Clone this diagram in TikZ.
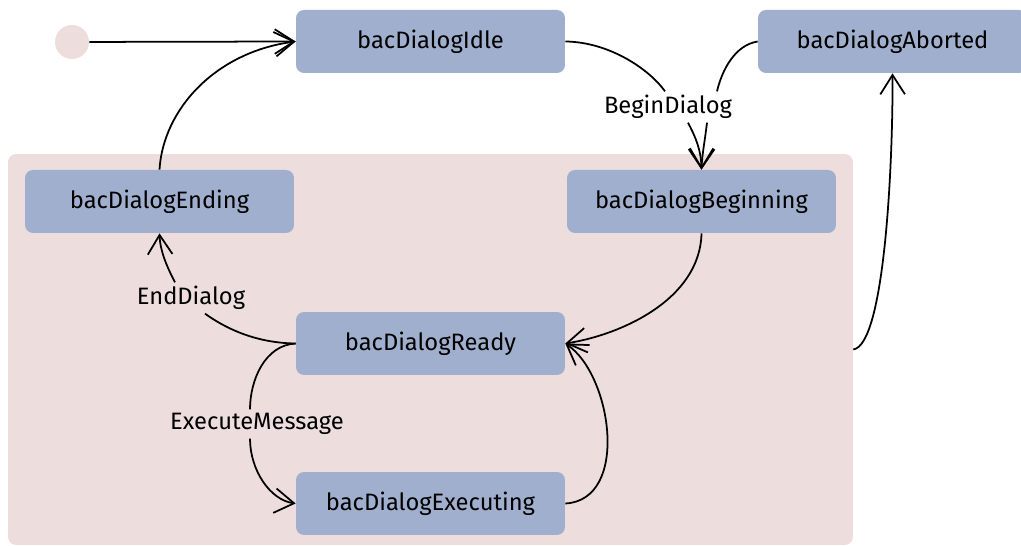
\documentclass[tikz,border=0pt]{standalone}
\usepackage{fontspec}
\setmainfont{Fira Sans}
\usetikzlibrary{arrows.meta,calc}
\definecolor{clusterpink}{RGB}{237,221,221}
\definecolor{statebox}{RGB}{160,175,205}
\begin{document}
\begin{tikzpicture}[x=0.02cm,y=-0.02cm,
  statenode/.style={rectangle,rounded corners=0.16cm,fill=statebox,minimum width=5.38cm,minimum height=1.26cm,inner sep=0pt,font=\fontsize{13.5pt}{15pt}\selectfont},
  lbl/.style={inner sep=2pt,font=\fontsize{13.5pt}{15pt}\selectfont},
  conn/.style={draw=black,line width=1pt},
  tip/.style={-{Straight Barb[length=11pt,width=14pt,line width=1pt]}}]
\path[use as bounding box] (0,0) rectangle (1021,546);
\node[rectangle,rounded corners=0.16cm,fill=clusterpink,minimum width=16.9cm,minimum height=7.82cm,inner sep=0pt] (cluster) at (430.5,349.5) {};
\node[circle,fill=clusterpink,minimum size=0.68cm,inner sep=0pt] (init) at (72,42) {};
\node[statenode] (idle) at (430.5,41.5) {bacDialogIdle};
\node[statenode] (aborted) at (892.5,41.5) {bacDialogAborted};
\node[statenode] (ending) at (159.5,201.5) {bacDialogEnding};
\node[statenode] (beginning) at (701.5,201.5) {bacDialogBeginning};
\node[statenode] (ready) at (430.5,343.5) {bacDialogReady};
\node[statenode] (executing) at (430.5,503.5) {bacDialogExecuting};
\node[lbl] (lblBegin) at (668,107) {BeginDialog};
\node[lbl] (lblEnd) at (191,298) {EndDialog};
\node[lbl] (lblExec) at (257,424) {ExecuteMessage};
% init -> idle
\draw[conn,tip] (init) -- (idle.west);
% ending -> idle
\draw[conn,tip] (ending.north) .. controls (163,110) and (215,52) .. (idle.west);
% idle -> beginning
\draw[conn] (idle.east) .. controls (610,42) and (650,70) .. ([xshift=-0.06cm]lblBegin.north);
\draw[conn,tip] ([xshift=0.4cm]lblBegin.south) .. controls (696,138) and (701,150) .. (beginning.north);
% aborted -> beginning
\draw[conn] (aborted.west) .. controls (735,45) and (722,70) .. ([xshift=0.98cm]lblBegin.north);
\draw[conn,tip] ([xshift=0.78cm]lblBegin.south) .. controls (705,140) and (702,155) .. (beginning.north);
% beginning -> ready
\draw[conn,tip] (beginning.south) .. controls (700,300) and (620,335) .. (ready.east);
% cluster -> aborted
\draw[conn,tip] (cluster.east) .. controls (885,345) and (893,160) .. (aborted.south);
% ready -> ending
\draw[conn] (ready.west) .. controls (255,343) and (225,328) .. ([xshift=0.28cm]lblEnd.south);
\draw[conn,tip] ([xshift=-0.32cm]lblEnd.north) .. controls (166,265) and (160,250) .. (ending.south);
% ready -> executing
\draw[conn] (ready.west) .. controls (265,345) and (250,380) .. ([xshift=-0.14cm]lblExec.north);
\draw[conn,tip] ([xshift=-0.14cm]lblExec.south) .. controls (250,470) and (270,500) .. (executing.west);
% executing -> ready
\draw[conn,tip] (executing.east) .. controls (630,500) and (612,375) .. (ready.east);
\end{tikzpicture}
\end{document}
